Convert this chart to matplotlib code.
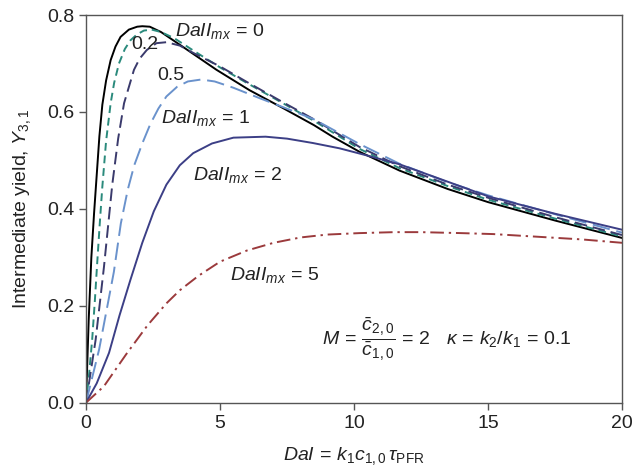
import matplotlib
matplotlib.use("Agg")
import matplotlib.pyplot as plt

plt.rcParams['font.family'] = ['Liberation Sans', 'DejaVu Sans']
plt.rcParams['mathtext.fontset'] = 'custom'
plt.rcParams['mathtext.rm'] = 'Liberation Sans'
plt.rcParams['mathtext.it'] = 'Liberation Sans:italic'
plt.rcParams['mathtext.bf'] = 'Liberation Sans:bold'

# ---- data ----
x_da0 = [0, 0.1, 0.2, 0.3, 0.4, 0.5, 0.61, 0.75, 0.92, 1.1, 1.29, 1.6, 1.91, 2.1, 2.38, 2.8,
         3.6, 4.87, 6.1, 7.35, 8.5, 9.2, 10.2, 11.7, 13.5, 15, 17.5, 20]
y_da0 = [0, 0.17, 0.30, 0.39, 0.47, 0.55, 0.615, 0.665, 0.707, 0.735, 0.755, 0.770, 0.776, 0.777,
         0.776, 0.765, 0.735, 0.687, 0.645, 0.608, 0.573, 0.549, 0.518, 0.479, 0.441, 0.414,
         0.376, 0.340]

x_da02 = [0, 0.1, 0.23, 0.33, 0.42, 0.52, 0.61, 0.75, 0.92, 1.05, 1.23, 1.45, 1.66, 1.9, 2.16,
          2.45, 2.8, 3.3, 4.0, 5.0, 6.0, 7.35, 8.5, 10.2, 11.7, 13.5, 15, 17.5, 20]
y_da02 = [0, 0.05, 0.13, 0.21, 0.29, 0.375, 0.446, 0.54, 0.618, 0.66, 0.70, 0.73, 0.748, 0.76,
          0.768, 0.770, 0.765, 0.752, 0.727, 0.692, 0.660, 0.618, 0.582, 0.524, 0.484, 0.447,
          0.419, 0.380, 0.343]

x_da05 = [0, 0.36, 0.67, 0.98, 1.2, 1.42, 1.79, 2.0, 2.27, 2.63, 3.0, 3.5, 4.0, 5.0, 6.0, 7.35,
          8.5, 10.2, 11.7, 13.5, 15, 17.5, 20]
y_da05 = [0, 0.13, 0.28, 0.45, 0.545, 0.618, 0.687, 0.71, 0.728, 0.742, 0.744, 0.737, 0.722,
          0.694, 0.662, 0.620, 0.585, 0.528, 0.488, 0.450, 0.423, 0.383, 0.346]

x_da1 = [0, 0.49, 1.04, 1.3, 1.56, 1.8, 2.1, 2.4, 2.7, 3.0, 3.4, 3.8, 4.3, 4.8, 5.5, 6.5, 7.35,
         8.5, 10.2, 11.7, 13.5, 15, 17.5, 20]
y_da1 = [0, 0.11, 0.27, 0.37, 0.44, 0.49, 0.535, 0.575, 0.607, 0.632, 0.652, 0.663, 0.667, 0.663,
         0.650, 0.628, 0.610, 0.585, 0.534, 0.493, 0.455, 0.428, 0.389, 0.351]

x_da2 = [0, 0.4, 0.86, 1.25, 1.66, 2.1, 2.53, 3.0, 3.5, 4.0, 4.7, 5.5, 6.7, 7.5, 8.46, 9.46,
         10.5, 11.7, 13.3, 15, 17.5, 20]
y_da2 = [0, 0.04, 0.103, 0.18, 0.254, 0.33, 0.395, 0.45, 0.49, 0.515, 0.535, 0.547, 0.549,
         0.545, 0.536, 0.525, 0.510, 0.492, 0.460, 0.426, 0.390, 0.357]

x_da5 = [0, 0.67, 1.5, 2.3, 3.0, 3.5, 4.2, 5.0, 6.0, 7.0, 8.0, 9.0, 10.2, 11.5, 12.5, 14, 15.2,
         17, 18.5, 20]
y_da5 = [0, 0.034, 0.10, 0.16, 0.205, 0.232, 0.262, 0.291, 0.314, 0.330, 0.341, 0.347, 0.350,
         0.352, 0.352, 0.350, 0.348, 0.342, 0.337, 0.330]

x_ticks = [0, 5, 10, 15, 20]
y_ticks = [0.0, 0.2, 0.4, 0.6, 0.8]
y_tick_labels = ['0.0', '0.2', '0.4', '0.6', '0.8']

FS = 14

fig = plt.figure(figsize=(6.37, 4.71), dpi=100)
ax = fig.add_axes([0.135, 0.145, 0.8415, 0.823])

ax.plot(x_da0, y_da0, color='#000000', lw=1.4, ls='-')
ax.plot(x_da02, y_da02, color='#2a8a7c', lw=1.4, ls=(0, (4, 2.5)))
ax.plot(x_da05, y_da05, color='#3a3a6c', lw=1.4, ls=(0, (6.5, 3)))
ax.plot(x_da1, y_da1, color='#6a92cc', lw=1.4, ls=(0, (9, 3.5)))
ax.plot(x_da2, y_da2, color='#3c3f86', lw=1.4, ls='-')
ax.plot(x_da5, y_da5, color='#9b3a3c', lw=1.4, ls=(0, (7, 2.5, 1.2, 2.5)))

ax.set_xlim(0, 20)
ax.set_ylim(0, 0.8)
ax.set_xticks(x_ticks)
ax.set_yticks(y_ticks)
ax.set_yticklabels(y_tick_labels)
ax.tick_params(direction='out', length=5, width=1, colors='#555555', labelcolor='#222222',
               labelsize=FS)
for s in ax.spines.values():
    s.set_color('#555555')
    s.set_linewidth(1.0)

ax.set_xlabel(r'$\mathit{DaI}\, =\, k_1 c_{1,0}\,\tau_{\mathrm{PFR}}$', fontsize=FS, labelpad=10,
              color='#222222')
ax.set_ylabel(r'Intermediate yield, $Y_{3,1}$', fontsize=FS, labelpad=10, color='#222222')

tc = '#222222'
ax.text(3.31, 0.756, r'$\mathit{DaII}_{mx}\, =\, 0$', fontsize=FS, color=tc, va='baseline')
ax.text(1.67, 0.73, '0.2', fontsize=FS, color=tc, va='baseline')
ax.text(2.65, 0.666, '0.5', fontsize=FS, color=tc, va='baseline')
ax.text(2.78, 0.578, r'$\mathit{DaII}_{mx}\, =\, 1$', fontsize=FS, color=tc, va='baseline')
ax.text(3.98, 0.46, r'$\mathit{DaII}_{mx}\, =\, 2$', fontsize=FS, color=tc, va='baseline')
ax.text(5.38, 0.254, r'$\mathit{DaII}_{mx}\, =\, 5$', fontsize=FS, color=tc, va='baseline')
ax.text(8.8, 0.131,
        r'$M\, =\, \dfrac{\bar{c}_{2,0}}{\bar{c}_{1,0}}\, =\, 2\quad \kappa\, =\, k_2/k_1\, =\, 0.1$',
        fontsize=FS, color=tc, va='center')

fig.savefig('out.png', dpi=100)
